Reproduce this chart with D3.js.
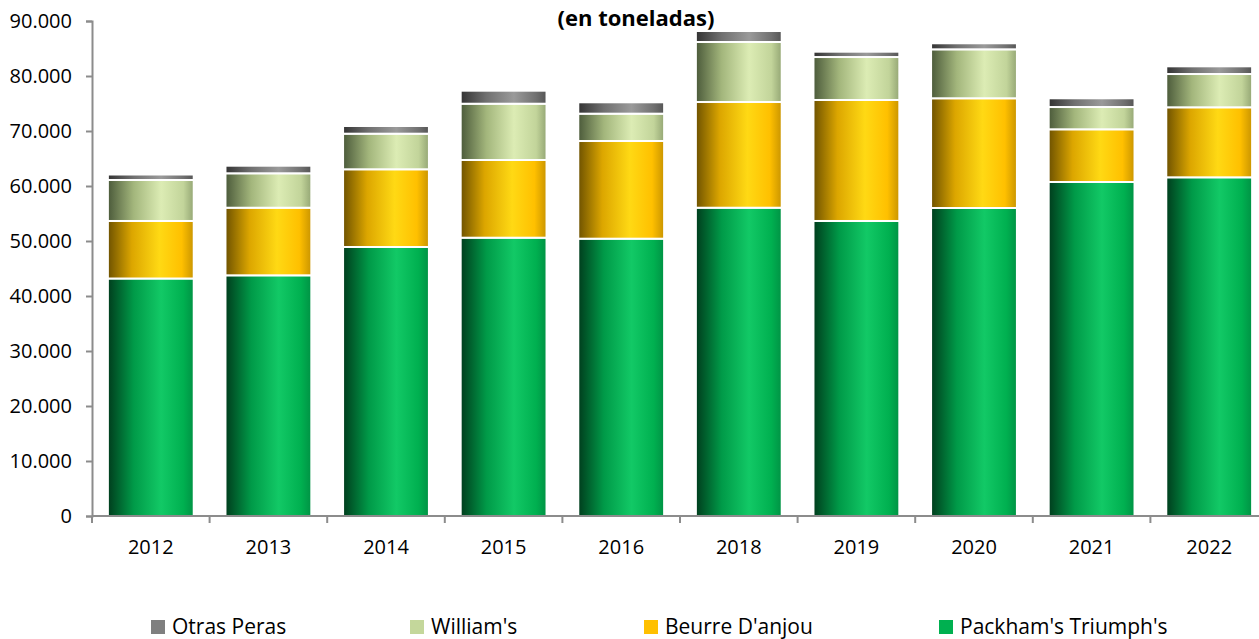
<!DOCTYPE html>
<html>
<head>
<meta charset="utf-8">
<script src="https://cdn.jsdelivr.net/npm/d3@7"></script>
<style>
  body { margin: 0; background: #fff; }
  svg { display: block; font-family: "Open Sans", "Noto Sans", sans-serif; }
</style>
</head>
<body>
<svg id="chart" width="1259" height="639"></svg>
<script>
// datos (toneladas)
var anios = ["2012", "2013", "2014", "2015", "2016", "2018", "2019", "2020", "2021", "2022"];
var packham = [43180, 43760, 48910, 50600, 50420, 56050, 53640, 56000, 60730, 61580];
var beurre  = [10460, 12290, 14130, 14130, 17760, 19220, 22000, 19950, 9580, 12730];
var williams = [7450, 6260, 6470, 10230, 4970, 10910, 7810, 8900, 4050, 6050];
var otras   = [1000, 1380, 1400, 2370, 2070, 2000, 970, 1100, 1590, 1400];
var series = ["Packham's Triumph's", "Beurre D'anjou", "William's", "Otras Peras"];
var ticksY = [0, 10000, 20000, 30000, 40000, 50000, 60000, 70000, 80000, 90000];

var valores = [packham, beurre, williams, otras];
var tabla = anios.map(function(a, i){
  var fila = {anio: a};
  series.forEach(function(s, j){ fila[s] = valores[j][i]; });
  return fila;
});

var svg = d3.select("#chart");
var x = d3.scaleBand().domain(anios).range([92, 1268]).paddingInner(0.27).paddingOuter(0.135);
var y = d3.scaleLinear().domain([0, 90000]).range([516, 21]);

// gradientes horizontales (estilo Excel)
var grad = {
  "Packham's Triumph's": [["0%", "#003d1d"], ["30%", "#009a48"], ["62%", "#12c966"], ["88%", "#00b050"], ["100%", "#009244"]],
  "Beurre D'anjou": [["0%", "#6e5200"], ["28%", "#dca600"], ["60%", "#ffd914"], ["86%", "#ffc000"], ["100%", "#c99400"]],
  "William's": [["0%", "#4b5a3a"], ["30%", "#a3b67c"], ["62%", "#dcecb4"], ["88%", "#c2d49a"], ["100%", "#94a674"]],
  "Otras Peras": [["0%", "#333333"], ["30%", "#707070"], ["62%", "#9a9a9a"], ["88%", "#707070"], ["100%", "#555555"]]
};
var colorLeyenda = {
  "Packham's Triumph's": "#00b050",
  "Beurre D'anjou": "#ffc000",
  "William's": "#c4d79b",
  "Otras Peras": "#7f7f7f"
};
var defs = svg.append("defs");
series.forEach(function(s, j){
  var g = defs.append("linearGradient").attr("id", "g" + j)
    .attr("x1", "0%").attr("x2", "100%").attr("y1", "0%").attr("y2", "0%");
  grad[s].forEach(function(st){
    g.append("stop").attr("offset", st[0]).attr("stop-color", st[1]);
  });
});

// barras apiladas
var stack = d3.stack().keys(series)(tabla);
svg.append("g").selectAll("g")
  .data(stack)
  .enter().append("g")
  .attr("fill", function(d, j){ return "url(#g" + j + ")"; })
  .selectAll("rect")
  .data(function(d){ return d; })
  .enter().append("rect")
  .attr("x", function(d){ return x(d.data.anio); })
  .attr("y", function(d){ return y(d[1]); })
  .attr("width", x.bandwidth())
  .attr("height", function(d){ return y(d[0]) - y(d[1]); })
  .attr("stroke", "#ffffff")
  .attr("stroke-width", 2);

// ejes
var ejeY = svg.append("g").attr("transform", "translate(92,0)")
  .call(d3.axisLeft(y).tickValues(ticksY).tickSize(6).tickPadding(14)
    .tickFormat(function(d){ return d3.format(",")(d).replace(/,/g, "."); }));
var ejeX = svg.append("g").attr("transform", "translate(0,516)")
  .call(d3.axisBottom(x).tickSize(0).tickPadding(24));

[ejeY, ejeX].forEach(function(e){
  e.select(".domain").attr("stroke", "#8c8c8c").attr("stroke-width", 2);
  e.selectAll("line").attr("stroke", "#8c8c8c").attr("stroke-width", 2);
  e.selectAll("text").attr("font-size", "20px").attr("fill", "#000")
    .attr("font-family", "'Open Sans', sans-serif");
});
ejeX.select(".domain").attr("d", "M92,0H1268");

// ticks del eje x en los limites de cada categoria
var limites = anios.map(function(a){ return x(a) - x.step() * x.paddingInner() / 2; });
limites.push(limites[limites.length - 1] + x.step());
ejeX.selectAll(".limite").data(limites).enter().append("line")
  .attr("class", "limite")
  .attr("x1", function(d){ return d; }).attr("x2", function(d){ return d; })
  .attr("y1", 0).attr("y2", 7)
  .attr("stroke", "#8c8c8c").attr("stroke-width", 2);

// titulo
svg.append("text")
  .attr("x", 636).attr("y", 26)
  .attr("text-anchor", "middle")
  .attr("font-size", "22px").attr("font-weight", "bold")
  .text("(en toneladas)");

// leyenda
var leyenda = ["Otras Peras", "William's", "Beurre D'anjou", "Packham's Triumph's"];
var posLeyenda = [151, 410, 644, 939];
var ley = svg.append("g").selectAll("g").data(leyenda).enter().append("g")
  .attr("transform", function(d, i){ return "translate(" + posLeyenda[i] + ",620)"; });
ley.append("rect").attr("width", 14).attr("height", 14)
  .attr("fill", function(d){ return colorLeyenda[d]; });
ley.append("text").attr("x", 21).attr("y", 14)
  .attr("font-size", "21px").attr("fill", "#000")
  .text(function(d){ return d; });
</script>
</body>
</html>
